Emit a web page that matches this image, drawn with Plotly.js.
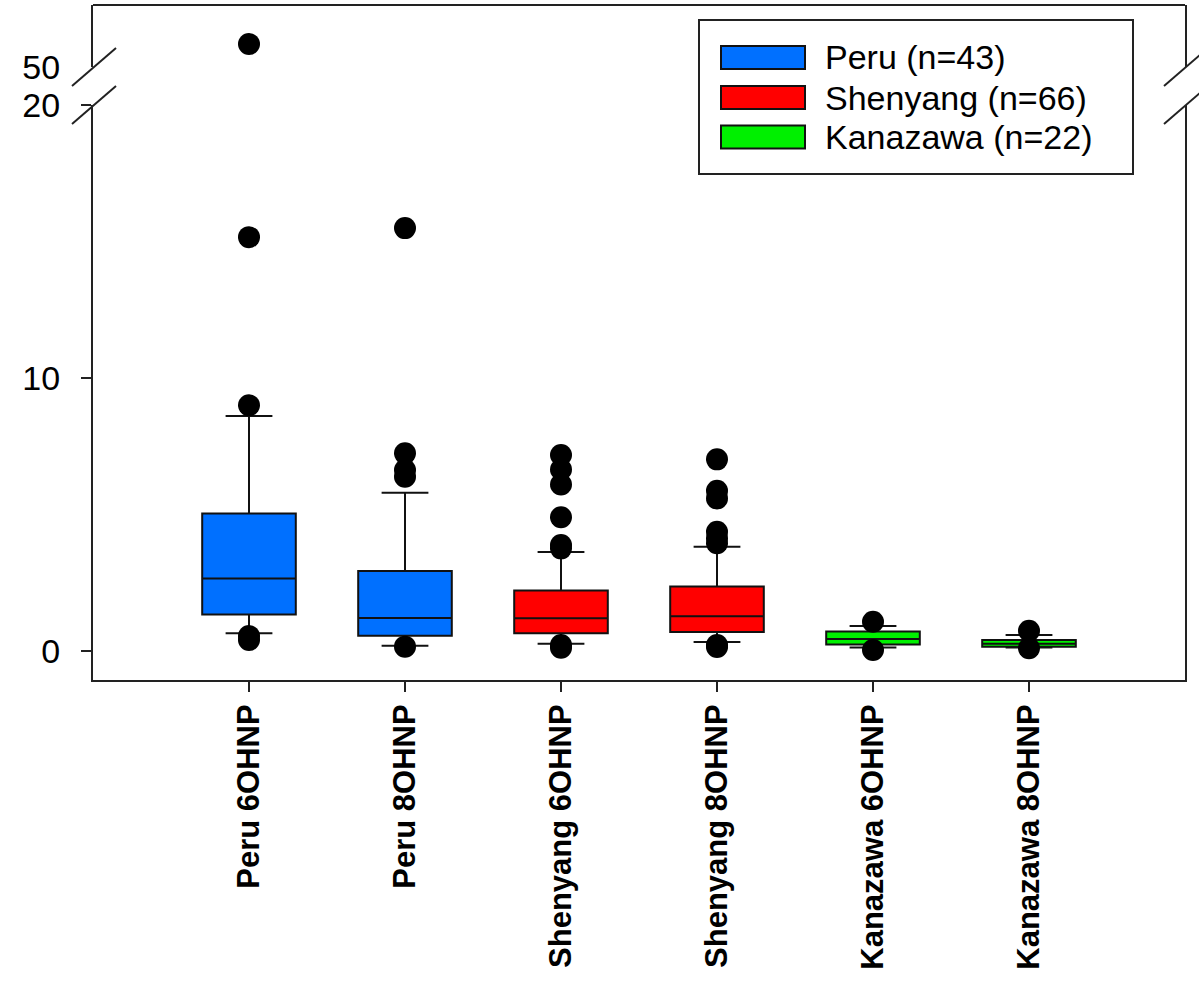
<!DOCTYPE html>
<html>
<head>
<meta charset="utf-8">
<script src="https://cdn.plot.ly/plotly-3.0.1.min.js"></script>
<style>html,body{margin:0;padding:0;background:#fff;}#chart{width:1199px;height:986px;}</style>
</head>
<body>
<div id="chart"></div>
<script>
// ---- data ----
const categories = ['Peru 6OHNP','Peru 8OHNP','Shenyang 6OHNP','Shenyang 8OHNP','Kanazawa 6OHNP','Kanazawa 8OHNP'];
const groupNames = ['Peru (n=43)','Shenyang (n=66)','Kanazawa (n=22)'];
const groupColors = ['#0070FF','#FF0000','#00F000'];
const groupOf = [0,0,1,1,2,2];
const q1 = [1.34,0.56,0.65,0.70,0.24,0.16];
const median = [2.66,1.21,1.20,1.27,0.44,0.27];
const q3 = [5.04,2.93,2.22,2.36,0.71,0.40];
const lowerWhisker = [0.65,0.19,0.27,0.33,0.13,0.13];
const upperWhisker = [8.61,5.80,3.63,3.82,0.92,0.59];
const outliersPeru6 = [0.40,0.55,9.0,15.16];
const outliersPeru8 = [0.16,6.38,6.63,7.24,15.49];
const outliersShenyang6 = [0.12,0.22,3.76,3.88,4.90,6.10,6.65,7.18];
const outliersShenyang8 = [0.15,0.22,3.95,4.13,4.37,5.59,5.87,7.02];
const outliersKanazawa6 = [0.04,1.07];
const outliersKanazawa8 = [0.10,0.74];
const highOutlierCategories = ['Peru 6OHNP'];
const highOutlierValues = [53.7];
const lowerTicks = [0,10,20];
const upperTicks = [50];

// ---- build ----
const outlierLists = [outliersPeru6,outliersPeru8,outliersShenyang6,outliersShenyang8,outliersKanazawa6,outliersKanazawa8];
const traces = [];
groupNames.forEach((g,gi)=>{
  const idx = groupOf.map((v,i)=>v===gi?i:-1).filter(i=>i>=0);
  traces.push({
    type:'box', name:g, showlegend:false,
    x: idx.map(i=>categories[i]),
    q1: idx.map(i=>q1[i]), median: idx.map(i=>median[i]), q3: idx.map(i=>q3[i]),
    lowerfence: idx.map(i=>lowerWhisker[i]), upperfence: idx.map(i=>upperWhisker[i]),
    boxpoints:false, fillcolor: groupColors[gi],
    line:{color:'#111', width:2}, whiskerwidth:0.5, width:0.6,
    xaxis:'x', yaxis:'y', hoverinfo:'skip'
  });
});
const ox=[], oy=[];
outlierLists.forEach((l,i)=>l.forEach(v=>{ox.push(categories[i]); oy.push(v);}));
traces.push({type:'scatter', mode:'markers', x:ox, y:oy, showlegend:false,
  marker:{color:'#000', size:22}, xaxis:'x', yaxis:'y', cliponaxis:false, hoverinfo:'skip'});
traces.push({type:'scatter', mode:'markers', x:highOutlierCategories, y:highOutlierValues, showlegend:false,
  marker:{color:'#000', size:22}, xaxis:'x', yaxis:'y2', cliponaxis:false, hoverinfo:'skip'});

// pixel -> paper helpers (plot area 93..1185 x 5..680)
const PL=93, PR=1185, PT=5, PB=680;
const px = v => (v-PL)/(PR-PL);
const py = v => (PB-v)/(PB-PT);
const lineC = '#222';
const shapes = [
  {type:'line', xref:'paper', yref:'paper', x0:0, x1:1, y0:1, y1:1, line:{color:lineC, width:2}},
  // break marks
  {type:'line', xref:'paper', yref:'paper', x0:px(72), y0:py(86), x1:px(116), y1:py(48), line:{color:lineC, width:2}},
  {type:'line', xref:'paper', yref:'paper', x0:px(72), y0:py(124), x1:px(116), y1:py(86), line:{color:lineC, width:2}},
  {type:'line', xref:'paper', yref:'paper', x0:px(1164), y0:py(86), x1:px(1208), y1:py(48), line:{color:lineC, width:2}},
  {type:'line', xref:'paper', yref:'paper', x0:px(1164), y0:py(124), x1:px(1208), y1:py(86), line:{color:lineC, width:2}},
  // legend frame
  {type:'rect', xref:'paper', yref:'paper', x0:px(699), x1:px(1133), y0:py(174), y1:py(20), line:{color:lineC, width:2}, fillcolor:'#fff', layer:'above'}
];
const annotations = [];
const rowCenters = [57.5, 97.5, 137];
groupNames.forEach((g,gi)=>{
  shapes.push({type:'rect', xref:'paper', yref:'paper', x0:px(721), x1:px(805),
    y0:py(rowCenters[gi]+11.5), y1:py(rowCenters[gi]-11.5), fillcolor:groupColors[gi],
    line:{color:'#111', width:2}, layer:'above'});
  annotations.push({xref:'paper', yref:'paper', x:px(823), y:py(rowCenters[gi]), text:g,
    showarrow:false, xanchor:'left', yanchor:'middle',
    font:{family:'Liberation Sans, Arial, sans-serif', size:34, color:'#000'}});
});

const tickFontY = {family:'Liberation Sans, Arial, sans-serif', size:34, color:'#000'};
const layout = {
  width:1199, height:986,
  margin:{l:PL, r:1199-PR, t:PT, b:986-PB},
  paper_bgcolor:'#fff', plot_bgcolor:'#fff',
  showlegend:false, boxmode:'overlay',
  font:{family:'Liberation Sans, Arial, sans-serif', color:'#000'},
  xaxis:{type:'category', categoryorder:'array', categoryarray:categories,
    range:[-1,6], anchor:'y', showgrid:false, zeroline:false,
    showline:true, linecolor:lineC, linewidth:2,
    ticks:'outside', ticklen:10, tickwidth:2, tickcolor:lineC, tickangle:-90,
    tickfont:{family:'Liberation Sans, Arial, sans-serif', size:31, color:'#000', weight:'bold'}},
  yaxis:{domain:[0, py(105)], range:[(651-680)/27.3, 20], anchor:'x',
    tickvals:lowerTicks, ticks:'outside', ticklen:10, tickwidth:2, tickcolor:lineC,
    ticklabelstandoff:14,
    showgrid:false, zeroline:false, showline:true, mirror:true, linecolor:lineC, linewidth:2,
    tickfont:tickFontY},
  yaxis2:{domain:[py(67), 1], range:[50, 60], anchor:'x',
    tickvals:upperTicks, ticks:'', ticklabelstandoff:24,
    showgrid:false, zeroline:false, showline:true, mirror:true, linecolor:lineC, linewidth:2,
    tickfont:tickFontY},
  shapes:shapes, annotations:annotations
};
Plotly.newPlot('chart', traces, layout, {displayModeBar:false, staticPlot:true});
</script>
</body>
</html>
